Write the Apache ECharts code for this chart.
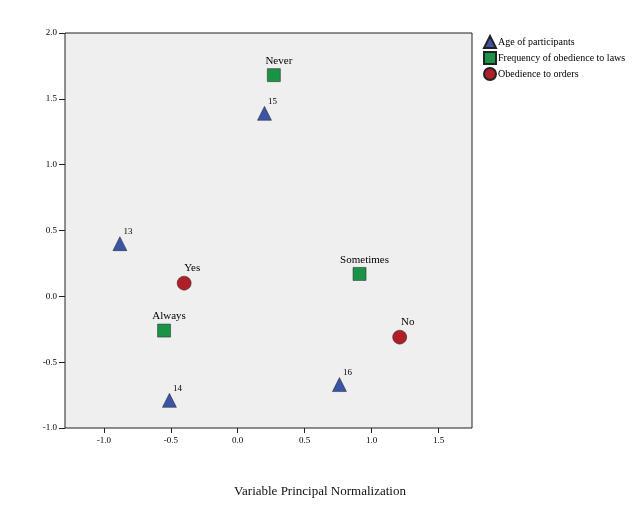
<!DOCTYPE html>
<html>
<head>
<meta charset="utf-8"/>
<script src="https://cdn.jsdelivr.net/npm/echarts@6/dist/echarts.min.js"></script>
</head>
<body style="margin:0">
<div id="div1" style="width:640px;height:507px"></div>
<script type="text/javascript">
// points: [x, y, label]
var seriesNames = ['Age of participants', 'Frequency of obedience to laws', 'Obedience to orders'];
var agePts = [[-0.88, 0.40, '13'], [0.20, 1.39, '15'], [-0.51, -0.79, '14'], [0.76, -0.67, '16']];
var lawPts = [[0.27, 1.68, 'Never'], [0.91, 0.17, 'Sometimes'], [-0.55, -0.26, 'Always']];
var orderPts = [[-0.40, 0.10, 'Yes'], [1.21, -0.31, 'No']];
var xTicks = [-1.0, -0.5, 0.0, 0.5, 1.0, 1.5];

var font = 'Liberation Serif, Times New Roman, serif';

function mk(pts, name, symbol, color, size, fs, off) {
    return {
        name: name,
        type: 'scatter',
        symbol: symbol,
        symbolSize: size,
        itemStyle: {color: color, opacity: 1, borderColor: '#222', borderWidth: 0.5},
        data: pts.map(function (p) { return {value: [p[0], p[1]], name: p[2]}; }),
        label: {
            show: true, position: 'top', distance: 2, offset: off, formatter: '{b}',
            fontFamily: font, fontSize: fs, color: '#000'
        }
    };
}

var myecharts = echarts.init(document.getElementById('div1'));
myecharts.setOption({
    backgroundColor: '#fff',
    animation: false,
    textStyle: {fontFamily: font},
    grid: {left: 65, right: 168, top: 33, bottom: 79, backgroundColor: '#efefef', show: true, borderColor: '#222', borderWidth: 1},
    legend: {
        orient: 'vertical', left: 478, top: 30, itemGap: 2, itemWidth: 12, itemHeight: 12,
        textStyle: {fontFamily: font, fontSize: 10, color: '#000', padding: [0, 0, 0, -3]},
        data: seriesNames
    },
    xAxis: {
        type: 'value', min: -1.29, max: 1.75, interval: 0.5,
        splitLine: {show: false},
        axisLine: {show: false, onZero: false},
        axisTick: {show: true, customValues: xTicks, lineStyle: {color: '#222'}},
        axisLabel: {customValues: xTicks, fontSize: 9, color: '#000', formatter: function (v) { return v.toFixed(1); }}
    },
    yAxis: {
        type: 'value', min: -1.0, max: 2.0, interval: 0.5,
        splitLine: {show: false},
        axisLine: {show: false, onZero: false},
        axisTick: {show: true, length: 6, lineStyle: {color: '#222'}},
        axisLabel: {fontSize: 9, color: '#000', formatter: function (v) { return v.toFixed(1); }}
    },
    graphic: [{
        type: 'text', left: 'center', top: 485,
        style: {text: 'Variable Principal Normalization', font: '13px ' + font, fill: '#111'}
    }],
    series: [
        mk(agePts, seriesNames[0], 'triangle', '#3b54a5', 14, 9, [8, 2]),
        mk(lawPts, seriesNames[1], 'rect', '#1a9347', 13, 11, [5, 0]),
        mk(orderPts, seriesNames[2], 'circle', '#b01f27', 14, 11, [8, 0])
    ]
});
</script>
</body>
</html>
